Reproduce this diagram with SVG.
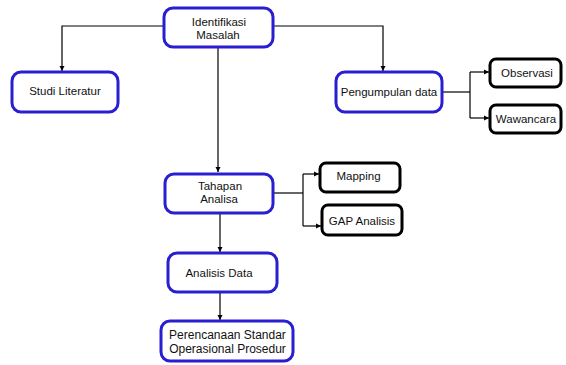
<svg xmlns="http://www.w3.org/2000/svg" width="566" height="365" viewBox="0 0 566 365">
<style>
.b{fill:#fff;stroke:#2a1fd0;stroke-width:3}
.k{fill:#fff;stroke:#000;stroke-width:3}
.c{fill:none;stroke:#000;stroke-width:1.2}
text{font-family:"Liberation Sans",Arial,sans-serif;font-size:11.5px;fill:#111;text-anchor:middle}
.l{font-size:12px}
</style>
<defs>
<marker id="a" markerWidth="6" markerHeight="6" refX="5" refY="3" orient="auto" markerUnits="userSpaceOnUse">
<path d="M0,0.5 L5,3 L0,5.5 Z" fill="#000"/>
</marker>
</defs>
<rect width="566" height="365" fill="#fff"/>
<g id="connectors">
<path class="c" d="M164,26 H62 V71" marker-end="url(#a)"/>
<path class="c" d="M273,26 H383 V71" marker-end="url(#a)"/>
<path class="c" d="M218,48 V172" marker-end="url(#a)"/>
<path class="c" d="M442,92 H470"/>
<path class="c" d="M470,72 V118"/>
<path class="c" d="M470,72 H489" marker-end="url(#a)"/>
<path class="c" d="M470,118 H489" marker-end="url(#a)"/>
<path class="c" d="M273,193 H303"/>
<path class="c" d="M303,174 V226"/>
<path class="c" d="M303,174 H319" marker-end="url(#a)"/>
<path class="c" d="M303,226 H321" marker-end="url(#a)"/>
<path class="c" d="M220,213 V252" marker-end="url(#a)"/>
<path class="c" d="M220,292 V320" marker-end="url(#a)"/>
</g>
<g id="identifikasi">
<rect class="b" x="164" y="8" width="109" height="39" rx="9"/>
<text x="219" y="26">Identifikasi</text>
<text x="218" y="39">Masalah</text>
</g>
<g id="studi">
<rect class="b" x="12" y="72" width="106" height="40" rx="9"/>
<text x="65" y="95">Studi Literatur</text>
</g>
<g id="pengumpulan">
<rect class="b" x="336" y="72" width="106" height="40" rx="9"/>
<text x="389" y="96">Pengumpulan data</text>
</g>
<g id="observasi">
<rect class="k" x="490" y="59" width="71" height="28" rx="6"/>
<text x="527" y="77">Observasi</text>
</g>
<g id="wawancara">
<rect class="k" x="490" y="105" width="71" height="28" rx="6"/>
<text x="526" y="123">Wawancara</text>
</g>
<g id="tahapan">
<rect class="b" x="165" y="174" width="108" height="39" rx="9"/>
<text x="220" y="190">Tahapan</text>
<text x="219" y="203">Analisa</text>
</g>
<g id="mapping">
<rect class="k" x="320" y="163" width="80" height="29" rx="6"/>
<text x="358.5" y="180">Mapping</text>
</g>
<g id="gap">
<rect class="k" x="322" y="205" width="80" height="30" rx="6"/>
<text x="362" y="225">GAP Analisis</text>
</g>
<g id="analisis">
<rect class="b" x="168" y="253" width="109" height="39" rx="9"/>
<text x="219" y="277">Analisis Data</text>
</g>
<g id="perencanaan">
<rect class="b" x="161" y="321" width="132" height="40" rx="9"/>
<text class="l" x="227.5" y="338.5">Perencanaan Standar</text>
<text class="l" x="227.5" y="352.5">Operasional Prosedur</text>
</g>
</svg>
